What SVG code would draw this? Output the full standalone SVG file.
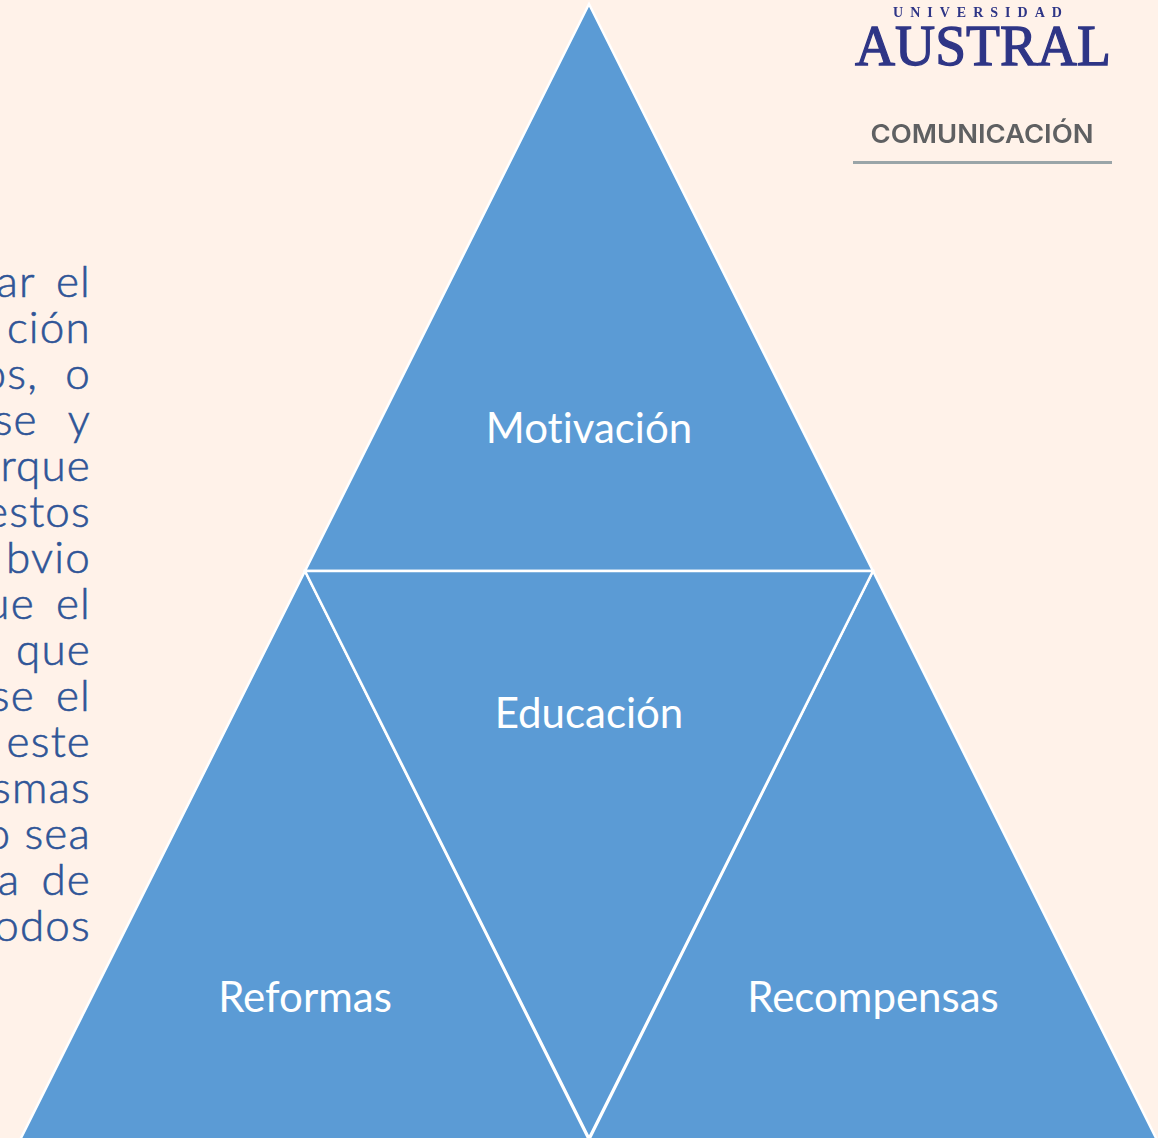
<svg xmlns="http://www.w3.org/2000/svg" width="1158" height="1138" viewBox="0 0 1158 1138">
<defs><filter id="soft" x="-5%" y="-5%" width="110%" height="110%"><feGaussianBlur stdDeviation="0.55"/></filter></defs>
<style>
.tri{fill:#5B9BD5;stroke:#fff;stroke-width:2.5;stroke-miterlimit:12}
.lab{font-family:"Lato","Noto Sans",sans-serif;font-size:42px;fill:#fff;text-anchor:middle;font-variant-ligatures:none}
.body{font-family:"Lato","Liberation Sans",sans-serif;font-weight:300;font-size:44px;letter-spacing:1.2px;fill:#2F5597;stroke:#2F5597;stroke-width:0.6px;text-anchor:end}
</style>
<rect width="1158" height="1138" fill="#FFF2E9"/>
<g id="body-text">
<text class="body" x="91" y="297" word-spacing="8">ar el</text>
<text class="body" x="91" y="343">ción</text>
<text class="body" x="91" y="389" word-spacing="14">os, o</text>
<text class="body" x="91" y="435" word-spacing="18">se y</text>
<text class="body" x="91" y="481">rque</text>
<text class="body" x="91" y="527">estos</text>
<text class="body" x="91" y="573">bvio</text>
<text class="body" x="91" y="619" word-spacing="8">ue el</text>
<text class="body" x="91" y="665">que</text>
<text class="body" x="91" y="711" word-spacing="8">se el</text>
<text class="body" x="91" y="757">este</text>
<text class="body" x="91" y="803">smas</text>
<text class="body" x="91" y="849">o sea</text>
<text class="body" x="91" y="895" word-spacing="8">a de</text>
<text class="body" x="91" y="941">odos</text>
</g>
<g id="node-motivacion"><polygon class="tri" points="589,4 873,571 305,571"/><text class="lab" x="589" y="443">Motivación</text></g>
<g id="node-reformas"><polygon class="tri" points="305,571 590,1142 19,1142"/><text class="lab" x="305" y="1012">Reformas</text></g>
<g id="node-recompensas"><polygon class="tri" points="873,571 1158,1142 588,1142"/><text class="lab" x="873" y="1012">Recompensas</text></g>
<g id="node-educacion"><polygon class="tri" points="305,571 873,571 589,1138"/><text class="lab" x="589" y="728">Educación</text></g>
<g id="logo" filter="url(#soft)">
<text x="981" y="17" font-family="Liberation Serif,serif" font-weight="700" font-size="14" letter-spacing="7" fill="#2E3586" text-anchor="middle">UNIVERSIDAD</text>
<text x="983" y="65" font-family="Liberation Serif,serif" font-size="58" fill="#2E3586" stroke="#2E3586" stroke-width="1.3" text-anchor="middle" textLength="256" lengthAdjust="spacingAndGlyphs">AUSTRAL</text>
<text x="982" y="143" font-family="Inter,sans-serif" font-weight="600" font-size="26" fill="#5F6162" text-anchor="middle" textLength="223" lengthAdjust="spacingAndGlyphs">COMUNICACIÓN</text>
<rect x="853" y="161" width="259" height="3" fill="#9AA5A8"/>
</g>
</svg>
